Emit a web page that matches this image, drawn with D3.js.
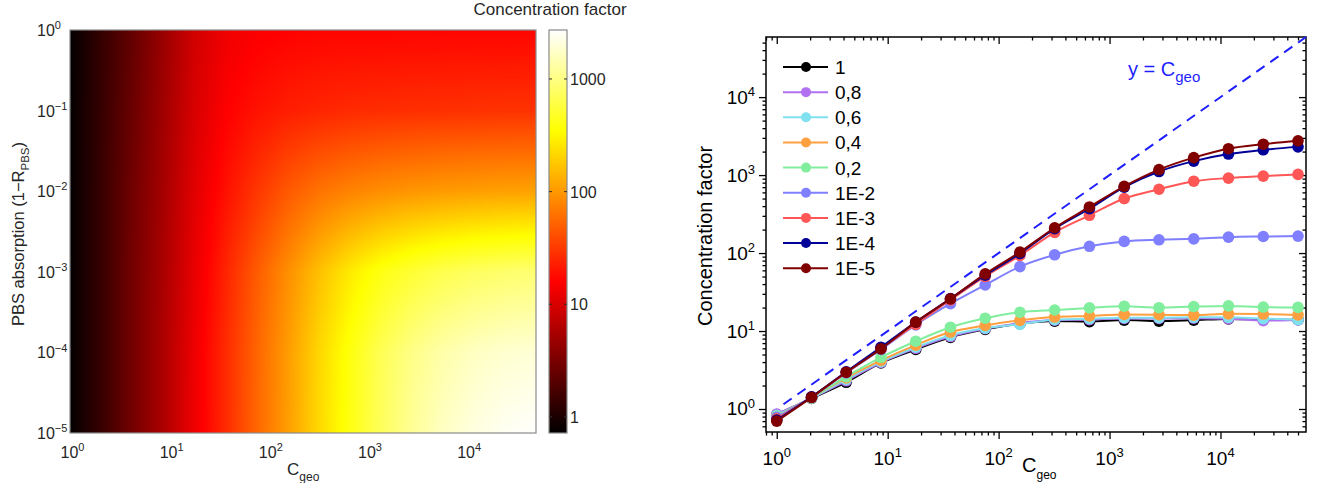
<!DOCTYPE html>
<html>
<head>
<meta charset="utf-8">
<script src="https://cdn.jsdelivr.net/npm/d3@7"></script>
<style>
  body { margin: 0; background: #fff; }
  svg { display: block; }
  text { font-family: "Liberation Sans", Arial, Helvetica, sans-serif; }
</style>
</head>
<body>
<svg id="fig" width="1323" height="483"></svg>
<script>
// Geometric concentration values (x for both panels)
const cgeo = [1, 2.06, 4.23, 8.7, 17.9, 36.8, 75.7, 155.7, 320, 659, 1356, 2790, 5740, 11800, 24300, 50000];

// ---- curve panel: one curve per level ----
const seriesLabels = ["1", "0,8", "0,6", "0,4", "0,2", "1E-2", "1E-3", "1E-4", "1E-5"];
const seriesColors = ["#000000", "#b070f0", "#7fe0f0", "#ffa040", "#80ee9c", "#7f7fff", "#ff5656", "#000099", "#800000"];

const cfAbs1   = [0.85, 1.37, 2.2, 3.9, 5.8, 8.3, 10.5, 12.4, 13.4, 13.2, 13.8, 13.4, 13.8, 14.3, 14.0, 14.0];
const cfAbs08  = [0.86, 1.38, 2.3, 3.95, 6.0, 8.5, 10.7, 12.6, 13.8, 14.0, 14.5, 14.5, 14.6, 14.4, 13.6, 13.9];
const cfAbs06  = [0.83, 1.38, 2.4, 4.05, 6.2, 8.8, 10.9, 12.2, 14.0, 14.4, 14.8, 14.8, 15.0, 15.0, 14.4, 14.0];
const cfAbs04  = [0.80, 1.40, 2.5, 4.2, 6.6, 9.7, 11.8, 13.7, 15.1, 15.6, 16.3, 16.2, 16.0, 16.6, 16.5, 16.1];
const cfAbs02  = [0.80, 1.40, 2.6, 4.6, 7.4, 11.2, 14.6, 17.4, 18.6, 19.8, 20.8, 19.9, 20.6, 21.0, 20.3, 20.1];
const cfAbs1e2 = [0.78, 1.42, 2.9, 5.8, 12.0, 22.4, 39, 67, 95, 122, 141, 148, 152, 160, 163, 165];
const cfAbs1e3 = [0.75, 1.42, 2.95, 6.0, 12.2, 25, 50, 93, 184, 305, 500, 658, 834, 915, 970, 1020];
const cfAbs1e4 = [0.72, 1.43, 3.0, 6.2, 13.0, 26, 52, 99, 205, 370, 700, 1110, 1510, 1860, 2110, 2300];
const cfAbs1e5 = [0.70, 1.41, 2.96, 5.9, 13.0, 25.9, 54, 103, 211, 390, 718, 1177, 1675, 2180, 2490, 2750];
const seriesValues = [cfAbs1, cfAbs08, cfAbs06, cfAbs04, cfAbs02, cfAbs1e2, cfAbs1e3, cfAbs1e4, cfAbs1e5];

// ---- map panel: concentration factor on a (PBS absorption x C_geo) grid ----
const mapAbsorption = [1, 1e-1, 1e-2, 1e-3, 1e-4, 1e-5];
const mapA1   = [0.75, 1.35, 2.4, 4.6, 9.0, 13.0, 15.0, 16.0, 16.5, 16.5, 16.5, 16.6, 16.6, 16.7, 16.7, 16.8];
const mapA1e1 = [0.75, 1.38, 2.6, 5.0, 9.8, 15.5, 19.5, 22.5, 24.5, 26, 27, 27.5, 28, 28.5, 29, 29];
const mapA1e2 = [0.75, 1.40, 2.8, 5.3, 11.0, 19, 30, 46, 63, 77, 88, 97, 103, 107, 110, 112];
const mapA1e3 = [0.75, 1.40, 2.9, 5.6, 12.0, 24, 47, 88, 160, 270, 400, 530, 650, 750, 820, 870];
const mapA1e4 = [0.75, 1.40, 2.9, 5.8, 12.8, 26, 53, 103, 210, 385, 680, 1020, 1370, 1660, 1860, 1960];
const mapA1e5 = [0.75, 1.40, 2.9, 5.8, 13.0, 26, 54, 105, 215, 400, 720, 1170, 1670, 2120, 2460, 2700];
const mapValues = [mapA1, mapA1e1, mapA1e2, mapA1e3, mapA1e4, mapA1e5];

// Colour bar range and ticks
const colorbarDomain = [0.72, 2720];
const colorbarTicks = [1, 10, 100, 1000];

// Axis decades
const mapXExponents = [0, 1, 2, 3, 4];
const mapYExponents = [0, -1, -2, -3, -4, -5];
const lineXExponents = [0, 1, 2, 3, 4];
const lineYExponents = [0, 1, 2, 3, 4];

// Reference line y = C_geo
const identityRange = [1.15, 5.9e4];

const svg = d3.select("#fig");

// Writes "10^e" as a base with a raised exponent
function powerLabel(g, x, y, exp, size, supSize, anchor, fill) {
  const t = g.append("text").attr("x", x).attr("y", y)
    .attr("text-anchor", anchor).attr("fill", fill).attr("font-size", size);
  t.append("tspan").text("10");
  t.append("tspan").attr("font-size", supSize).attr("dy", -size * 0.42)
    .text(String(exp).replace("-", "\u2212"));
  return t;
}

// MATLAB-style "hot" colormap
function hot(t) {
  const r = Math.max(0, Math.min(1, t / 0.375));
  const g = Math.max(0, Math.min(1, (t - 0.375) / 0.375));
  const b = Math.max(0, Math.min(1, (t - 0.75) / 0.25));
  return [Math.round(r * 255), Math.round(g * 255), Math.round(b * 255)];
}

/* ---------------- Left panel: concentration map ---------------- */
const hm = { left: 70, right: 536, top: 30, bottom: 433 };
const hx = d3.scaleLog().domain([1, 5e4]).range([hm.left, hm.right]);
const hy = d3.scaleLog().domain([1e-5, 1]).range([hm.bottom, hm.top]);
const colorT = d3.scaleLog().domain(colorbarDomain).range([0, 1]).clamp(true);

// log10 grid, rows sorted by absorption
const rows = mapAbsorption.map((a, i) => ({ la: Math.log10(a), vals: mapValues[i].map(Math.log10) }))
  .sort((p, q) => p.la - q.la);
const rowLa = rows.map(r => r.la);
const colLc = cgeo.map(Math.log10);

function bracket(arr, v) {
  let i = d3.bisectRight(arr, v) - 1;
  i = Math.max(0, Math.min(arr.length - 2, i));
  const t = Math.max(0, Math.min(1, (v - arr[i]) / (arr[i + 1] - arr[i])));
  return [i, t];
}

const mw = hm.right - hm.left, mh = hm.bottom - hm.top;
const canvas = document.createElement("canvas");
canvas.width = mw; canvas.height = mh;
const ctx = canvas.getContext("2d");
const img = ctx.createImageData(mw, mh);
for (let py = 0; py < mh; py++) {
  const la = Math.log10(hy.invert(hm.top + py + 0.5));
  const [ri, rt] = bracket(rowLa, la);
  const r0 = rows[ri].vals, r1 = rows[ri + 1].vals;
  for (let px = 0; px < mw; px++) {
    const lc = Math.log10(hx.invert(hm.left + px + 0.5));
    const [ci, ct] = bracket(colLc, lc);
    const a = r0[ci] + (r0[ci + 1] - r0[ci]) * ct;
    const b = r1[ci] + (r1[ci + 1] - r1[ci]) * ct;
    const v = a + (b - a) * rt;
    const c = hot(colorT(Math.pow(10, v)));
    const k = (py * mw + px) * 4;
    img.data[k] = c[0]; img.data[k + 1] = c[1]; img.data[k + 2] = c[2]; img.data[k + 3] = 255;
  }
}
ctx.putImageData(img, 0, 0);

const left = svg.append("g");
left.append("image").attr("x", hm.left).attr("y", hm.top)
  .attr("width", mw).attr("height", mh)
  .attr("preserveAspectRatio", "none")
  .attr("href", canvas.toDataURL("image/png"));
left.append("rect").attr("x", hm.left).attr("y", hm.top).attr("width", mw).attr("height", mh)
  .attr("fill", "none").attr("stroke", "#8a8a8a").attr("stroke-width", 1.2);

const mapTextColor = "#262626";
mapYExponents.forEach(e => powerLabel(left, 37, hy(Math.pow(10, e)) + 6, e, 16, 11, "start", mapTextColor));
mapXExponents.forEach(e => powerLabel(left, hx(Math.pow(10, e)) - 9.5, 458, e, 16, 11, "start", mapTextColor));

// x title
const mxTitle = left.append("text").attr("x", 287).attr("y", 475).attr("font-size", 17).attr("fill", mapTextColor);
mxTitle.append("tspan").text("C");
mxTitle.append("tspan").attr("font-size", 12).attr("dy", 6).text("geo");

// y title
const myTitle = left.append("text").attr("transform", "translate(24,234) rotate(-90)")
  .attr("text-anchor", "middle").attr("font-size", 16.5).attr("fill", mapTextColor);
myTitle.append("tspan").text("PBS absorption (1\u2212R");
myTitle.append("tspan").attr("font-size", 11.5).attr("dy", 5).text("PBS");
myTitle.append("tspan").attr("dy", -5).text(")");

// colour bar
const cb = { left: 549, right: 567, top: 30, bottom: 433 };
const cbY = d3.scaleLog().domain(colorbarDomain).range([cb.bottom, cb.top]);
const defs = svg.append("defs");
const grad = defs.append("linearGradient").attr("id", "hotGrad")
  .attr("x1", 0).attr("y1", 1).attr("x2", 0).attr("y2", 0);
[0, 0.375, 0.75, 1].forEach(t => {
  const c = hot(t);
  grad.append("stop").attr("offset", t).attr("stop-color", `rgb(${c[0]},${c[1]},${c[2]})`);
});
left.append("rect").attr("x", cb.left).attr("y", cb.top)
  .attr("width", cb.right - cb.left).attr("height", cb.bottom - cb.top)
  .attr("fill", "url(#hotGrad)").attr("stroke", "#8a8a8a").attr("stroke-width", 1.2);
colorbarTicks.forEach(v => {
  const y = cbY(v);
  left.append("line").attr("x1", cb.left).attr("x2", cb.left + 3).attr("y1", y).attr("y2", y)
    .attr("stroke", "#333").attr("stroke-width", 1);
  left.append("line").attr("x1", cb.right - 3).attr("x2", cb.right).attr("y1", y).attr("y2", y)
    .attr("stroke", "#333").attr("stroke-width", 1);
  left.append("text").attr("x", 570).attr("y", y + 6).attr("font-size", 16)
    .attr("fill", mapTextColor).text(String(v));
});
left.append("text").attr("x", 550).attr("y", 15).attr("text-anchor", "middle")
  .attr("font-size", 17).attr("fill", mapTextColor).text("Concentration factor");

/* ---------------- Right panel: curves ---------------- */
const rc = { left: 766, right: 1306, top: 37, bottom: 432 };
const rx = d3.scaleLog().domain([0.8, 5.9e4]).range([rc.left, rc.right]);
const ry = d3.scaleLog().domain([0.507, 5.9e4]).range([rc.bottom, rc.top]);
const right = svg.append("g");

function logTicks(dom) {
  const majors = [], minors = [];
  for (let e = Math.floor(Math.log10(dom[0])); e <= Math.ceil(Math.log10(dom[1])); e++) {
    for (let k = 1; k < 10; k++) {
      const v = k * Math.pow(10, e);
      if (v < dom[0] * 0.9999 || v > dom[1] * 1.0001) continue;
      (k === 1 ? majors : minors).push(v);
    }
  }
  return { majors, minors };
}
const xt = logTicks(rx.domain()), yt = logTicks(ry.domain());

function drawAxis(axisFn, scale, values, size, transform) {
  const g = right.append("g").attr("transform", transform)
    .call(axisFn(scale).tickValues(values).tickSize(size).tickSizeOuter(0).tickFormat(""));
  g.select(".domain").remove();
  g.selectAll("line").attr("stroke", "#000").attr("stroke-width", 1.3);
}
// outward ticks on bottom / left, mirrored inward on top / right
drawAxis(d3.axisBottom, rx, xt.majors, 7, `translate(0,${rc.bottom})`);
drawAxis(d3.axisBottom, rx, xt.minors, 3.5, `translate(0,${rc.bottom})`);
drawAxis(d3.axisBottom, rx, xt.majors, 7, `translate(0,${rc.top})`);
drawAxis(d3.axisBottom, rx, xt.minors, 3.5, `translate(0,${rc.top})`);
drawAxis(d3.axisLeft, ry, yt.majors, 7, `translate(${rc.left},0)`);
drawAxis(d3.axisLeft, ry, yt.minors, 3.5, `translate(${rc.left},0)`);
drawAxis(d3.axisLeft, ry, yt.majors, 7, `translate(${rc.right},0)`);
drawAxis(d3.axisLeft, ry, yt.minors, 3.5, `translate(${rc.right},0)`);

right.append("rect").attr("x", rc.left).attr("y", rc.top)
  .attr("width", rc.right - rc.left).attr("height", rc.bottom - rc.top)
  .attr("fill", "none").attr("stroke", "#000").attr("stroke-width", 1.5);

lineXExponents.forEach(e => powerLabel(right, rx(Math.pow(10, e)), 465, e, 19, 13, "middle", "#000"));
lineYExponents.forEach(e => powerLabel(right, 755, ry(Math.pow(10, e)) + 6.5, e, 19, 13, "end", "#000"));

const rxTitle = right.append("text").attr("x", 1022).attr("y", 472).attr("font-size", 20).attr("fill", "#000");
rxTitle.append("tspan").text("C");
rxTitle.append("tspan").attr("font-size", 12).attr("dy", 7).text("geo");

right.append("text").attr("transform", "translate(712,236) rotate(-90)")
  .attr("text-anchor", "middle").attr("font-size", 20).attr("fill", "#000")
  .text("Concentration factor");

// y = C_geo reference
const plot = right.append("g");
plot.append("path")
  .attr("d", d3.line().x(d => rx(d)).y(d => ry(d))(identityRange))
  .attr("fill", "none").attr("stroke", "#1f1fff").attr("stroke-width", 2)
  .attr("stroke-dasharray", "10,7");
const idText = right.append("text").attr("x", 1128).attr("y", 76).attr("font-size", 20).attr("fill", "#1f1fff");
idText.append("tspan").text("y = C");
idText.append("tspan").attr("font-size", 15).attr("dy", 6).text("geo");

// curves
const line = d3.line().x(d => rx(d[0])).y(d => ry(d[1])).curve(d3.curveMonotoneX);
seriesValues.forEach((vals, i) => {
  const pts = cgeo.map((c, j) => [c, vals[j]]);
  const g = plot.append("g");
  g.append("path").attr("d", line(pts)).attr("fill", "none")
    .attr("stroke", seriesColors[i]).attr("stroke-width", 2);
  g.selectAll("circle").data(pts).join("circle")
    .attr("cx", d => rx(d[0])).attr("cy", d => ry(d[1])).attr("r", 5.8)
    .attr("fill", seriesColors[i]);
});

// legend
const legend = right.append("g");
seriesLabels.forEach((lab, i) => {
  const y = 67 + 25.15 * i;
  legend.append("line").attr("x1", 783).attr("x2", 828).attr("y1", y).attr("y2", y)
    .attr("stroke", seriesColors[i]).attr("stroke-width", 2);
  legend.append("circle").attr("cx", 806).attr("cy", y).attr("r", 5).attr("fill", seriesColors[i]);
  legend.append("text").attr("x", 835).attr("y", y + 7).attr("font-size", 19).attr("fill", "#000").text(lab);
});
</script>
</body>
</html>
